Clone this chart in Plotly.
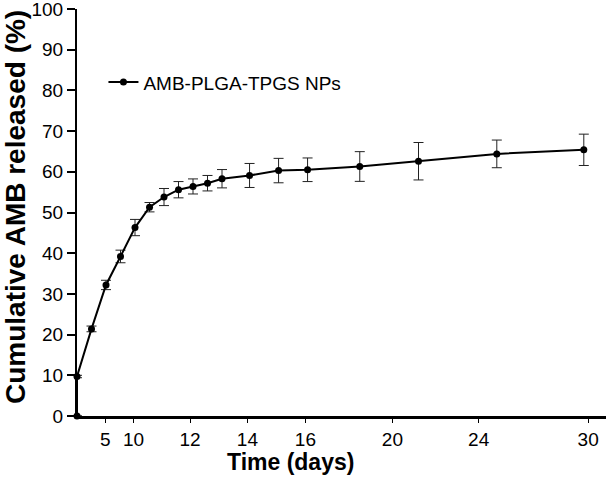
import plotly.graph_objects as go

# Data (x = position on the drawn, non-uniform time axis)
time_axis_value = [0, 0, 1, 2, 3, 4, 5, 6, 7, 8, 9, 10, 11.9, 13.9, 15.9, 19.5, 23.55, 28.95, 34.95]
released_pct = [0, 9.7, 21.4, 32.2, 39.2, 46.3, 51.3, 53.8, 55.6, 56.4, 57.2, 58.3, 59.1, 60.3, 60.5, 61.3, 62.6, 64.4, 65.4]
released_err = [0, 0.3, 0.7, 1.15, 1.55, 2.0, 1.15, 2.1, 2.0, 1.85, 1.9, 2.25, 2.95, 3.0, 2.9, 3.65, 4.6, 3.4, 3.85]

x_tick_vals = [1.95, 3.9, 7.8, 11.75, 15.75, 21.75, 27.7, 35.25]
x_tick_text = ["5", "10", "12", "14", "16", "20", "24", "30"]
y_tick_vals = list(range(0, 101, 10))

FONT = "Arial, Liberation Sans, sans-serif"

fig = go.Figure()
fig.add_trace(go.Scatter(
    x=time_axis_value, y=released_pct,
    mode="lines+markers",
    name="AMB-PLGA-TPGS NPs",
    line=dict(color="black", width=2),
    marker=dict(color="black", size=7),
    error_y=dict(type="data", array=released_err, visible=True,
                 color="#222222", thickness=1, width=5),
    cliponaxis=False,
))

fig.update_layout(
    width=607, height=477,
    margin=dict(l=77, r=1, t=9, b=61, autoexpand=False),
    paper_bgcolor="white", plot_bgcolor="white",
    font=dict(family=FONT, size=19, color="black"),
    showlegend=True,
    legend=dict(x=0.05, y=0.82, xanchor="left", yanchor="middle",
                bgcolor="rgba(0,0,0,0)", font=dict(size=19),
                itemwidth=30),
    xaxis=dict(range=[0, 36.48], showgrid=False, zeroline=False, automargin=False,
               showline=True, linecolor="black", linewidth=2.5,
               ticks="outside", ticklen=4, tickwidth=1, tickcolor="black",
               tickvals=x_tick_vals, ticktext=x_tick_text,
               ticklabeloverflow="allow", tickfont=dict(size=19)),
    yaxis=dict(range=[0, 100], showgrid=False, zeroline=False, automargin=False,
               showline=True, linecolor="black", linewidth=2,
               ticks="outside", ticklen=8, tickwidth=1.5, tickcolor="black",
               tickvals=y_tick_vals, ticklabeloverflow="allow", tickfont=dict(size=19)),
    annotations=[
        dict(text="<b>Time (days)</b>", xref="paper", yref="paper",
             x=(290 - 77) / 529, y=-(462 - 416) / 407, xanchor="center", yanchor="middle",
             showarrow=False, font=dict(size=23, family=FONT)),
        dict(text="<b>Cumulative AMB released (%)</b>", xref="paper", yref="paper",
             x=-(77 - 15) / 529, y=(416 - 207) / 407, xanchor="center", yanchor="middle",
             textangle=-90, showarrow=False, font=dict(size=28, family=FONT)),
    ],
)

fig.write_html("out.html", config={"displayModeBar": False},
               post_script="document.body.style.margin='0';document.body.style.padding='0';")
